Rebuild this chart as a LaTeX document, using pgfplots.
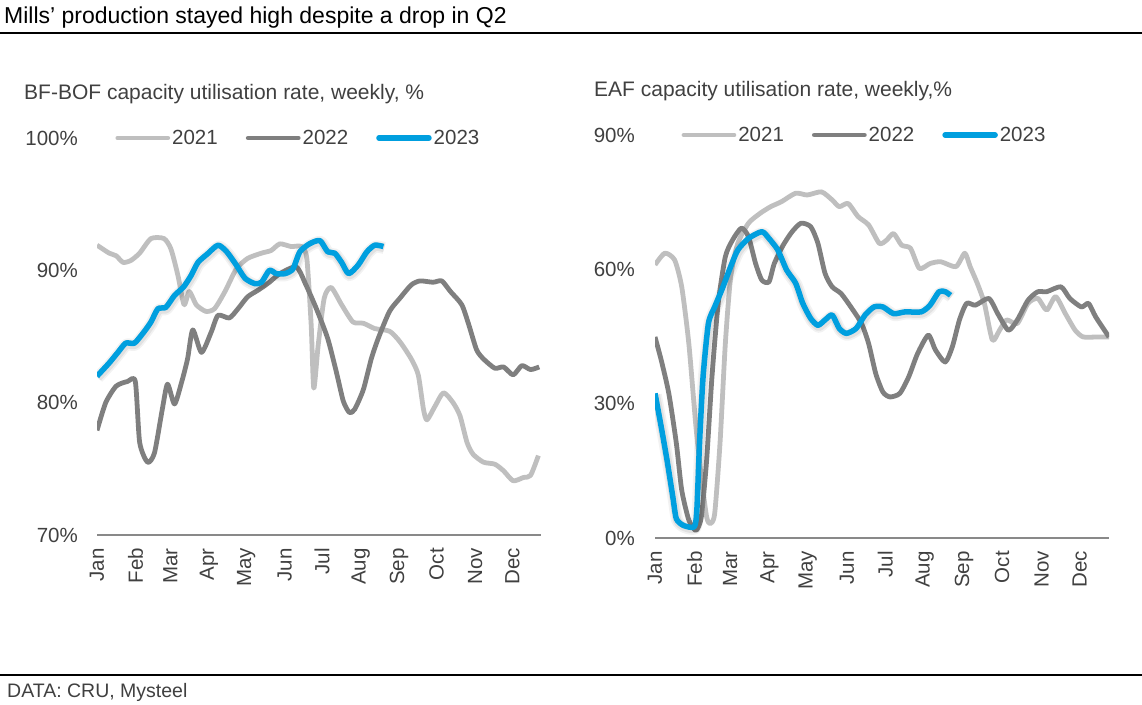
\documentclass[border=0pt]{standalone}
\usepackage{fontspec}
\setmainfont{Liberation Sans}
\usepackage{pgfplots}
\pgfplotsset{compat=1.18}
\definecolor{c21}{HTML}{BFBFBF}
\definecolor{c22}{HTML}{7F7F7F}
\definecolor{c23}{HTML}{009FDF}
\definecolor{txt}{HTML}{404040}
\definecolor{axl}{HTML}{898989}
\pgfplotsset{
 mystyle/.style={
  scale only axis,
  xmin=0, xmax=51,
  axis x line*=bottom, axis y line*=left,
  x axis line style={draw=axl, line width=2pt, -},
  y axis line style={draw=none},
  major tick length=0pt,
  tick style={draw=none},
  xtick={0,4.43,8.43,12.86,17.14,21.57,25.86,30.29,34.71,39,43.43,47.71},
  xticklabels={Jan,Feb,Mar,Apr,May,Jun,Jul,Aug,Sep,Oct,Nov,Dec},
  xticklabel style={rotate=90, anchor=east, inner sep=0pt},
  xticklabel shift=13pt,
  yticklabel style={anchor=east, inner sep=0pt},
  yticklabel shift=19pt,
  tick label style={font=\fontsize{20.5}{24}\selectfont, text=txt},
  legend columns=3,
  legend style={draw=none, fill=none, inner sep=0pt, font=\fontsize{20.5}{24}\selectfont, text=txt, anchor=west, /tikz/every even column/.append style={column sep=26pt}},
  legend image code/.code={\draw[##1, line cap=round] (0pt,0pt) -- (50pt,0pt);},
  every axis plot/.append style={line width=4.8pt, smooth, tension=0.4, line join=round, mark=none},
 },
 glow1/.style={black, opacity=0.05, line width=12pt, yshift=-1.5pt, xshift=0.8pt, forget plot},
 glow2/.style={black, opacity=0.07, line width=8.5pt, yshift=-1.5pt, xshift=0.8pt, forget plot},
}
\begin{document}
\begin{tikzpicture}
\useasboundingbox (0pt,0pt) rectangle (1142pt,704pt);
\node[anchor=base west, inner sep=0pt, font=\fontsize{23}{27}\selectfont] at (4pt,680pt) {Mills’ production stayed high despite a drop in Q2};
\draw[line width=2pt] (0pt,671pt) -- (1142pt,671pt);
\draw[line width=1.2pt] (0pt,29pt) -- (1142pt,29pt);
\node[anchor=base west, inner sep=0pt, text=txt, font=\fontsize{19.5}{23}\selectfont] at (7pt,7pt) {DATA: CRU, Mysteel};
\node[anchor=base west, inner sep=0pt, text=txt, font=\fontsize{21}{25}\selectfont] at (24pt,604pt) {BF-BOF capacity utilisation rate, weekly, \%};
\node[anchor=base west, inner sep=0pt, text=txt, font=\fontsize{21}{25}\selectfont] at (594pt,607pt) {EAF capacity utilisation rate, weekly,\%};

\pgfplotstableread{
w v
0 82.0
1.4 83.0
2.4 83.8
3.3 84.5
4.3 84.5
5.4 85.35
6.2 86.1
7 87.1
7.9 87.2
8.9 88.1
9.95 88.75
10.8 89.6
11.6 90.6
12.7 91.25
13.9 91.9
14.9 91.4
16 90.4
17 89.4
18.1 89.0
18.9 89.1
19.8 90.0
20.6 89.75
21.6 89.75
22.5 90.1
23.3 91.4
24.4 92.0
25.6 92.25
26.5 91.4
27.3 91.3
28.1 90.6
28.9 89.75
30 90.4
31 91.4
31.9 91.9
32.9 91.8
}\bofB
\pgfplotstableread{
w v
0 32.3
0.7 24.8
1.35 17.4
2 9.2
2.4 4.3
3.2 2.8
4.4 2.5
4.7 6.2
5 21.1
5.4 36.0
6 47.9
6.7 51.6
7.5 55.4
8.5 60.6
9.3 64.3
10.5 66.9
12 68.4
12.8 66.9
13.8 64.3
14.8 59.8
15.8 56.9
16.6 52.4
17.5 49.0
18.3 47.5
19.1 48.7
19.9 49.8
20.7 46.8
21.5 45.7
22.6 46.8
23.6 49.8
24.6 51.6
25.6 51.6
26.8 50.1
28.1 50.5
29.9 50.5
30.9 52.0
31.9 55.0
32.6 55.0
33.2 54.2
}\eafB

\begin{axis}[mystyle, at={(97pt,169pt)}, anchor=south west, width=444pt, height=397pt,
  ymin=70, ymax=100, ytick={70,80,90,100}, yticklabels={70\%,80\%,90\%,100\%},
  legend style={at={(0.041,1.0)}}]
\addplot[c21] coordinates {(0,91.9)(1.4,91.3)(2.2,91.1)(3,90.6)(3.9,90.75)(4.9,91.3)(6.2,92.4)(7.7,92.4)(8.5,91.6)(9.3,89.6)(10,87.4)(10.6,88.4)(11.4,87.4)(12.5,86.9)(13.5,87.1)(14.7,88.4)(16,90.1)(17.3,90.9)(18.9,91.3)(20,91.5)(21,92.0)(22.3,91.8)(23.5,91.8)(24.1,90.9)(24.6,85.9)(24.9,81.1)(25.4,84.3)(26.1,87.9)(26.9,88.7)(28.1,87.4)(29.4,86.1)(30.6,86.0)(31.9,85.6)(33.6,85.4)(34.8,84.6)(36.1,83.3)(36.9,82.1)(37.5,79.5)(37.9,78.7)(38.8,79.7)(39.8,80.75)(40.9,80.0)(41.7,79.0)(42.5,77.0)(43.2,76.1)(44.4,75.5)(45.7,75.35)(46.7,74.85)(47.8,74.1)(49,74.35)(49.8,74.5)(50.7,76.0)};
\addlegendentry{2021}
\addplot[c22] coordinates {(0,77.9)(1,80.0)(2.2,81.25)(3.5,81.6)(4.4,81.6)(4.9,77.0)(5.8,75.5)(6.6,76.2)(7.5,79.5)(8.1,81.4)(8.9,79.9)(9.7,81.5)(10.4,83.3)(11,85.5)(12,83.8)(13.1,85.3)(13.9,86.6)(15.2,86.4)(16.2,87.1)(17.3,88.0)(18.5,88.5)(19.8,89.1)(21,89.75)(22.9,90.25)(24,88.9)(25.2,87.1)(26.5,84.85)(27.5,82.3)(28.3,80.1)(29,79.25)(29.6,79.5)(30.6,81.0)(31.5,83.3)(32.3,84.85)(33.6,86.9)(34.8,87.9)(36.1,88.9)(37.1,89.2)(38.6,89.1)(39.6,89.2)(40.6,88.4)(41.9,87.4)(42.7,85.9)(43.6,84.0)(44.4,83.3)(45.7,82.6)(46.7,82.7)(47.8,82.1)(48.8,82.8)(49.8,82.5)(50.8,82.7)};
\addlegendentry{2022}
\addplot[glow1] table[x=w,y=v] {\bofB};
\addplot[glow2] table[x=w,y=v] {\bofB};
\addplot[c23, line width=5.5pt] table[x=w,y=v] {\bofB};
\addlegendentry{2023}
\end{axis}

\begin{axis}[mystyle, at={(655pt,166pt)}, anchor=south west, width=454pt, height=403pt,
  ymin=0, ymax=90, ytick={0,30,60,90}, yticklabels={0\%,30\%,60\%,90\%},
  yticklabel shift=20pt,
  legend style={at={(0.058,1.0)}}]
\addplot[c21] coordinates {(0,61.0)(1.1,63.6)(2.2,62.1)(3,56.1)(3.8,43.4)(4.6,24.8)(5.2,13.6)(5.8,4.7)(6.2,3.2)(6.7,5.4)(7.3,21.1)(7.9,43.4)(8.5,58.3)(9.3,65.8)(10.5,70.3)(11.8,72.5)(13,74.0)(14.2,75.1)(15.8,77.0)(17.1,76.6)(18.7,77.3)(19.9,75.5)(20.7,74.0)(21.7,74.7)(22.8,71.8)(24,69.9)(25.2,65.8)(26,66.5)(26.8,68.0)(27.7,65.4)(28.7,64.7)(29.7,60.2)(30.9,61.3)(32.1,61.7)(33.8,60.6)(34.8,63.6)(35.4,60.6)(36.2,56.9)(37,52.4)(37.9,44.2)(38.7,46.4)(39.5,48.7)(40.7,47.9)(41.9,52.4)(43,53.5)(44,50.9)(45,53.9)(46.1,50.1)(47.2,46.4)(48.1,44.9)(49.7,44.9)(51,44.9)};
\addlegendentry{2021}
\addplot[c22] coordinates {(0,44.9)(0.7,39.7)(1.55,32.3)(2.4,21.1)(3,10.7)(3.8,4.0)(4.6,1.7)(5.2,4.7)(5.8,17.4)(6.4,36.0)(7.1,52.4)(7.9,62.8)(8.7,66.5)(9.7,69.2)(10.5,67.3)(11.3,61.3)(12,57.6)(12.8,57.2)(13.4,61.3)(14.4,65.4)(15.4,68.4)(16.4,70.3)(17.5,69.5)(18.3,65.8)(19.1,59.1)(19.9,56.1)(20.9,54.6)(22,51.6)(23.2,47.9)(24,43.4)(24.8,36.7)(25.6,32.6)(26.4,31.5)(27.5,32.3)(28.5,36.0)(29.5,41.2)(30.7,45.3)(31.5,42.0)(32.6,39.3)(33.4,42.7)(34.2,48.7)(35,52.4)(36,52.0)(37.5,53.5)(38.5,50.1)(39.7,46.4)(40.7,48.7)(41.9,53.1)(43,55.0)(44,55.0)(45.6,56.1)(46.6,53.5)(47.9,51.6)(48.7,52.4)(49.5,49.4)(51,44.9)};
\addlegendentry{2022}
\addplot[glow1] table[x=w,y=v] {\eafB};
\addplot[glow2] table[x=w,y=v] {\eafB};
\addplot[c23, line width=5.5pt] table[x=w,y=v] {\eafB};
\addlegendentry{2023}
\end{axis}
\end{tikzpicture}
\end{document}
